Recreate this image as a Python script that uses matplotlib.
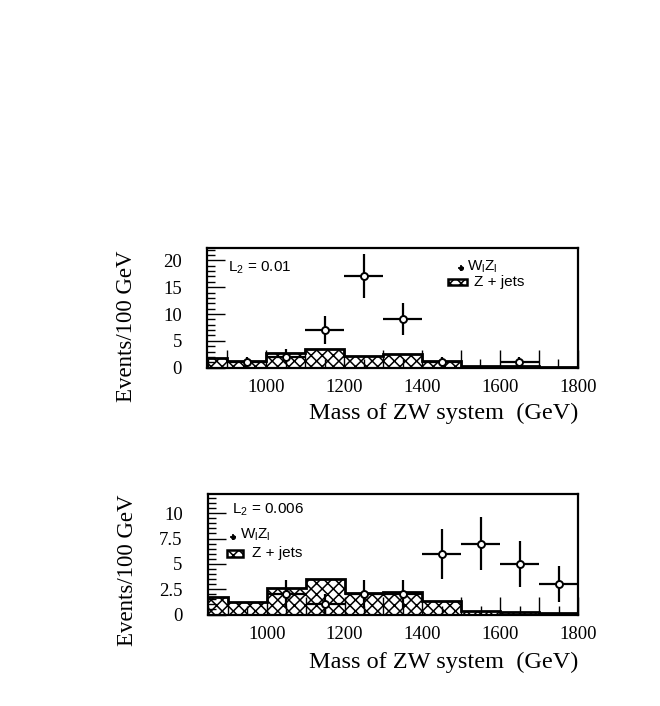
import numpy as np
import matplotlib
matplotlib.use("Agg")
import matplotlib.pyplot as plt
from matplotlib.patches import Rectangle
from matplotlib.ticker import MultipleLocator, FuncFormatter

# bin edges (GeV) for the Z + jets background
edges = [800, 900, 1000, 1100, 1200, 1300, 1400, 1500, 1600, 1700, 1800]

# top panel, L2 = 0.01
zjets_top = [1.8, 1.2, 2.8, 3.5, 2.2, 2.5, 1.2, 0.3, 0.3, 0.1]
wz_x_top = [950, 1050, 1150, 1250, 1350, 1450, 1650]
wz_y_top = [1, 2, 7, 17, 9, 1, 1]
wz_err_top = [1, 1.4, 2.6, 4.1, 3, 1, 1]

# bottom panel, L2 = 0.006
zjets_bot = [1.7, 1.25, 2.6, 3.5, 2.1, 2.25, 1.3, 0.35, 0.25, 0.15]
wz_x_bot = [1050, 1150, 1250, 1350, 1450, 1550, 1650, 1750]
wz_y_bot = [2, 1, 2, 2, 6, 7, 5, 3]
wz_err_bot = [1.4, 1, 1.4, 1.4, 2.45, 2.65, 2.25, 1.75]

plt.rcParams['hatch.linewidth'] = 1.1
plt.rcParams['mathtext.fontset'] = 'custom'
plt.rcParams['mathtext.rm'] = 'Liberation Sans'
plt.rcParams['mathtext.it'] = 'Liberation Sans'
serif = 'Liberation Serif'
sans = 'Liberation Sans'

fig = plt.figure(figsize=(6.6, 7.06), dpi=100)
ax1 = fig.add_axes([0.3136, 0.4792, 0.562, 0.1695])
ax2 = fig.add_axes([0.3147, 0.1296, 0.561, 0.1707])


def draw_panel(ax, zjets, xs, ys, errs, ymax, ymajor, yminor, label_y, xlab_y):
    ax.stairs(zjets, edges, fill=True, facecolor='white', edgecolor='black',
              hatch='xxx', linewidth=0)
    ax.stairs(zjets, edges, fill=False, color='black', linewidth=2.0)
    ax.errorbar(xs, ys, yerr=errs, xerr=50, fmt='o', color='black',
                mfc='white', mec='black', ms=5, mew=1.4, elinewidth=1.6,
                capsize=0, zorder=5)
    ax.set_xlim(848, 1800)
    ax.set_ylim(0, ymax)
    for s in ax.spines.values():
        s.set_linewidth(1.6)
    ax.xaxis.set_major_locator(MultipleLocator(100))
    ax.xaxis.set_minor_locator(MultipleLocator(50))
    ax.xaxis.set_major_formatter(FuncFormatter(
        lambda v, p: f"{int(v)}" if int(round(v)) % 200 == 0 else ""))
    ax.yaxis.set_major_locator(MultipleLocator(ymajor))
    ax.yaxis.set_minor_locator(MultipleLocator(yminor))
    ax.yaxis.set_major_formatter(FuncFormatter(lambda v, p: f"{v:g}"))
    ax.tick_params(axis='x', which='major', direction='in', length=13,
                   width=1.0, pad=8, labelsize=13.5)
    ax.tick_params(axis='x', which='minor', direction='in', length=6.5, width=1.0)
    ax.tick_params(axis='y', which='major', direction='in', length=13,
                   width=1.0, pad=18, labelsize=13.5)
    ax.tick_params(axis='y', which='minor', direction='in', length=6, width=1.0)
    for t in ax.get_xticklabels() + ax.get_yticklabels():
        t.set_fontfamily(serif)
    ax.set_ylabel('Events/100 GeV', fontsize=16.5, fontfamily=serif)
    ax.yaxis.set_label_coords(-0.189, label_y)
    ax.text(1.0, xlab_y, 'Mass of ZW system  (GeV)', transform=ax.transAxes,
            ha='right', va='center', fontsize=17.5, fontfamily=serif)


def legend_items(ax, ltxt, lx, ly, mx, my, wx, wy, bx0, bx1, by0, by1, zx, zy):
    tr = ax.transAxes
    ax.text(lx, ly, ltxt, transform=tr, ha='left', va='center',
            fontsize=11, fontfamily=sans)
    ax.plot([mx], [my], marker='+', color='black', ms=5, mew=1.2, transform=tr,
            clip_on=False)
    ax.plot([mx], [my], marker='o', color='black', ms=2.5, transform=tr,
            clip_on=False)
    ax.text(wx, wy, '$\\mathregular{W_lZ_l}$', transform=tr, ha='left',
            va='center', fontsize=11, fontfamily=sans)
    ax.add_patch(Rectangle((bx0, by0), bx1 - bx0, by1 - by0, transform=tr,
                           facecolor='white', edgecolor='black', hatch='xxx',
                           linewidth=1.8))
    ax.text(zx, zy, 'Z + jets', transform=tr, ha='left', va='center',
            fontsize=11, fontfamily=sans)


draw_panel(ax1, zjets_top, wz_x_top, wz_y_top, wz_err_top, 22.3, 5, 1, 0.35, -0.378)
draw_panel(ax2, zjets_bot, wz_x_bot, wz_y_bot, wz_err_bot, 11.9, 2.5, 0.5, 0.37, -0.394)

legend_items(ax1, '$\\mathregular{L_2}$ = 0.01', 0.057, 0.833,
             0.686, 0.830, 0.700, 0.845,
             0.650, 0.702, 0.691, 0.741, 0.720, 0.718)
legend_items(ax2, '$\\mathregular{L_2}$ = 0.006', 0.066, 0.867,
             0.069, 0.641, 0.087, 0.66,
             0.051, 0.096, 0.48, 0.535, 0.119, 0.51)

fig.savefig('out.png', dpi=100)
